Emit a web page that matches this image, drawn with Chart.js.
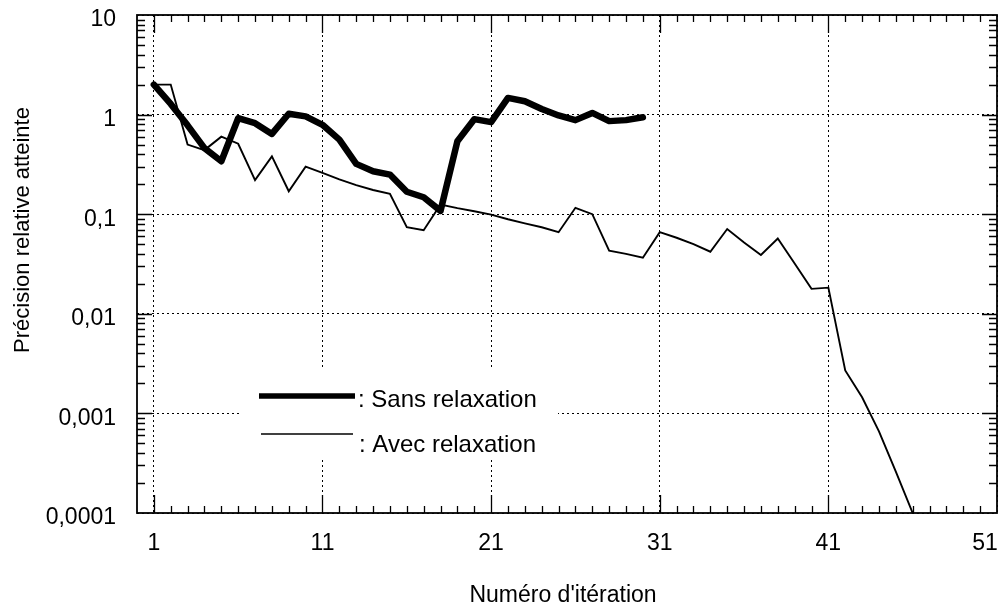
<!DOCTYPE html>
<html>
<head>
<meta charset="utf-8">
<title>Précision relative atteinte</title>
<script src="https://cdn.jsdelivr.net/npm/chart.js@4.4.0/dist/chart.umd.min.js"></script>
<style>
  html, body { margin: 0; padding: 0; background: #ffffff; }
  #wrap { width: 1008px; height: 608px; }
</style>
</head>
<body>
<div id="wrap"><canvas id="chart" width="1008" height="608"></canvas></div>
<script>
// Iteration numbers
const iterations = [1, 2, 3, 4, 5, 6, 7, 8, 9, 10,
  11, 12, 13, 14, 15, 16, 17, 18, 19, 20,
  21, 22, 23, 24, 25, 26, 27, 28, 29, 30,
  31, 32, 33, 34, 35, 36, 37, 38, 39, 40,
  41, 42, 43, 44, 45, 46];

// Relative precision without relaxation (iterations 1..30)
const sansRelaxation = [2.0, 1.28, 0.78, 0.46, 0.34, 0.92, 0.82, 0.64, 1.02, 0.96,
  0.79, 0.56, 0.32, 0.27, 0.25, 0.168, 0.148, 0.108, 0.54, 0.90,
  0.84, 1.47, 1.36, 1.14, 0.98, 0.88, 1.04, 0.86, 0.88, 0.94];

// Relative precision with relaxation (iterations 1..46)
const avecRelaxation = [2.0, 2.0, 0.50, 0.44, 0.60, 0.51, 0.22, 0.38, 0.17, 0.30,
  0.26, 0.224, 0.196, 0.175, 0.16, 0.074, 0.069, 0.125, 0.115, 0.107,
  0.099, 0.089, 0.081, 0.074, 0.066, 0.116, 0.100, 0.043, 0.040, 0.0365,
  0.066, 0.058, 0.050, 0.042, 0.071, 0.052, 0.039, 0.057, 0.032, 0.0178,
  0.0183, 0.0027, 0.00145, 0.00066, 0.00026, 0.0001];

// Axis ticks and labels
const xTicks = [1, 11, 21, 31, 41, 51];
const xTickLabels = ['1', '11', '21', '31', '41', '51'];
const yTicks = [0.0001, 0.001, 0.01, 0.1, 1, 10];
const yTickLabels = ['0,0001', '0,001', '0,01', '0,1', '1', '10'];

const seriesNames = ['Sans relaxation', 'Avec relaxation'];
const xTitle = "Numéro d'itération";
const yTitle = 'Précision relative atteinte';

const FONT = "'Liberation Sans', Arial, Helvetica, sans-serif";

function toPoints(values) {
  return values.map((v, i) => ({ x: iterations[i], y: v }));
}

// Frame, inward tick marks, axis titles and the boxed key
const framePlugin = {
  id: 'frame',
  afterLayout(chart) {
    // keep the last x label inside the canvas
    const items = chart.scales.x.getLabelItems();
    if (items.length) {
      items[items.length - 1].options.translation[0] -= 12;
    }
  },
  beforeDatasetsDraw(chart) {
    const ctx = chart.ctx;
    const a = chart.chartArea;
    // key box (white, hides the grid underneath)
    const kx = a.left + 103, ky = a.top + 353;
    ctx.save();
    ctx.fillStyle = '#ffffff';
    ctx.fillRect(kx, ky, 318, 90);
    // sample lines
    ctx.strokeStyle = '#000000';
    ctx.lineCap = 'butt';
    ctx.lineWidth = 5.5;
    ctx.beginPath();
    ctx.moveTo(a.left + 122, a.top + 381);
    ctx.lineTo(a.left + 218, a.top + 381);
    ctx.stroke();
    ctx.lineWidth = 1.7;
    ctx.beginPath();
    ctx.moveTo(a.left + 124, a.top + 419);
    ctx.lineTo(a.left + 216, a.top + 419);
    ctx.stroke();
    ctx.fillStyle = '#000000';
    ctx.font = '24px ' + FONT;
    ctx.textAlign = 'left';
    ctx.textBaseline = 'alphabetic';
    ctx.fillText(': ' + seriesNames[0], a.left + 221, a.top + 392);
    ctx.fillText(': ' + seriesNames[1], a.left + 222, a.top + 437);
    ctx.restore();
  },
  afterDatasetsDraw(chart) {
    const ctx = chart.ctx;
    const a = chart.chartArea;
    const xs = chart.scales.x;
    const ys = chart.scales.y;
    ctx.save();
    ctx.strokeStyle = '#000000';
    ctx.lineWidth = 1.3;
    ctx.beginPath();
    // x tick marks on bottom and top edges, every iteration
    for (let i = 1; i <= 50; i++) {
      const px = Math.round(xs.getPixelForValue(i)) + 0.5;
      const len = xTicks.includes(i) ? 18 : 7;
      ctx.moveTo(px, a.bottom);
      ctx.lineTo(px, a.bottom - len);
      ctx.moveTo(px, a.top);
      ctx.lineTo(px, a.top + len);
    }
    // y tick marks on left and right edges (decades and 2..9 subdivisions)
    for (let d = 0; d < yTicks.length - 1; d++) {
      const base = yTicks[d];
      for (let k = 1; k <= 9; k++) {
        if (k === 1 && d === 0) continue;
        const v = base * k;
        const py = Math.round(ys.getPixelForValue(v)) + 0.5;
        const len = k === 1 ? 15 : 8;
        ctx.moveTo(a.left, py);
        ctx.lineTo(a.left + len, py);
        ctx.moveTo(a.right, py);
        ctx.lineTo(a.right - len, py);
      }
    }
    ctx.stroke();
    // frame
    ctx.lineWidth = 1.8;
    ctx.strokeRect(a.left, a.top, a.right - a.left, a.bottom - a.top);

    // axis titles
    ctx.fillStyle = '#000000';
    ctx.font = '23px ' + FONT;
    ctx.textAlign = 'center';
    ctx.textBaseline = 'middle';
    ctx.fillText(xTitle, (a.left + a.right) / 2 - 4, 596);
    ctx.translate(23, 230);
    ctx.rotate(-Math.PI / 2);
    ctx.font = '22px ' + FONT;
    ctx.fillText(yTitle, 0, 0);
    ctx.restore();
  }
};

const chart = new Chart(document.getElementById('chart'), {
  type: 'line',
  data: {
    datasets: [
      {
        label: seriesNames[0],
        data: toPoints(sansRelaxation),
        borderColor: '#000000',
        borderWidth: 6.5,
        borderJoinStyle: 'round',
        borderCapStyle: 'round',
        pointRadius: 0,
        tension: 0,
        fill: false
      },
      {
        label: seriesNames[1],
        data: toPoints(avecRelaxation),
        borderColor: '#000000',
        borderWidth: 1.9,
        borderJoinStyle: 'miter',
        pointRadius: 0,
        tension: 0,
        fill: false
      }
    ]
  },
  options: {
    responsive: false,
    animation: false,
    devicePixelRatio: 1,
    layout: { padding: { left: 0, right: 11, top: 15, bottom: 0 } },
    plugins: {
      legend: { display: false },
      tooltip: { enabled: false },
      title: { display: false }
    },
    scales: {
      x: {
        type: 'linear',
        min: 0,
        max: 51,
        afterBuildTicks(scale) {
          scale.ticks = xTicks.map(v => ({ value: v }));
        },
        afterFit(scale) {
          scale.height = 95;
          scale.paddingLeft = 0;
          scale.paddingRight = 0;
        },
        grid: {
          color: '#000000',
          lineWidth: 1,
          drawTicks: false
        },
        border: { display: false, dash: [2, 3] },
        ticks: {
          autoSkip: false,
          maxRotation: 0,
          padding: 17,
          color: '#000000',
          font: { family: FONT, size: 23 },
          callback(value, index) { return xTickLabels[index]; }
        }
      },
      y: {
        type: 'logarithmic',
        min: 0.0001,
        max: 10,
        afterBuildTicks(scale) {
          scale.ticks = yTicks.map(v => ({ value: v }));
        },
        afterFit(scale) {
          scale.width = 137;
          scale.paddingTop = 0;
          scale.paddingBottom = 0;
        },
        grid: {
          color: '#000000',
          lineWidth: 1,
          drawTicks: false
        },
        border: { display: false, dash: [2, 3] },
        ticks: {
          autoSkip: false,
          padding: 21,
          labelOffset: 5,
          color: '#000000',
          font: { family: FONT, size: 23 },
          callback(value, index) { return yTickLabels[index]; }
        }
      }
    }
  },
  plugins: [framePlugin]
});
</script>
</body>
</html>
